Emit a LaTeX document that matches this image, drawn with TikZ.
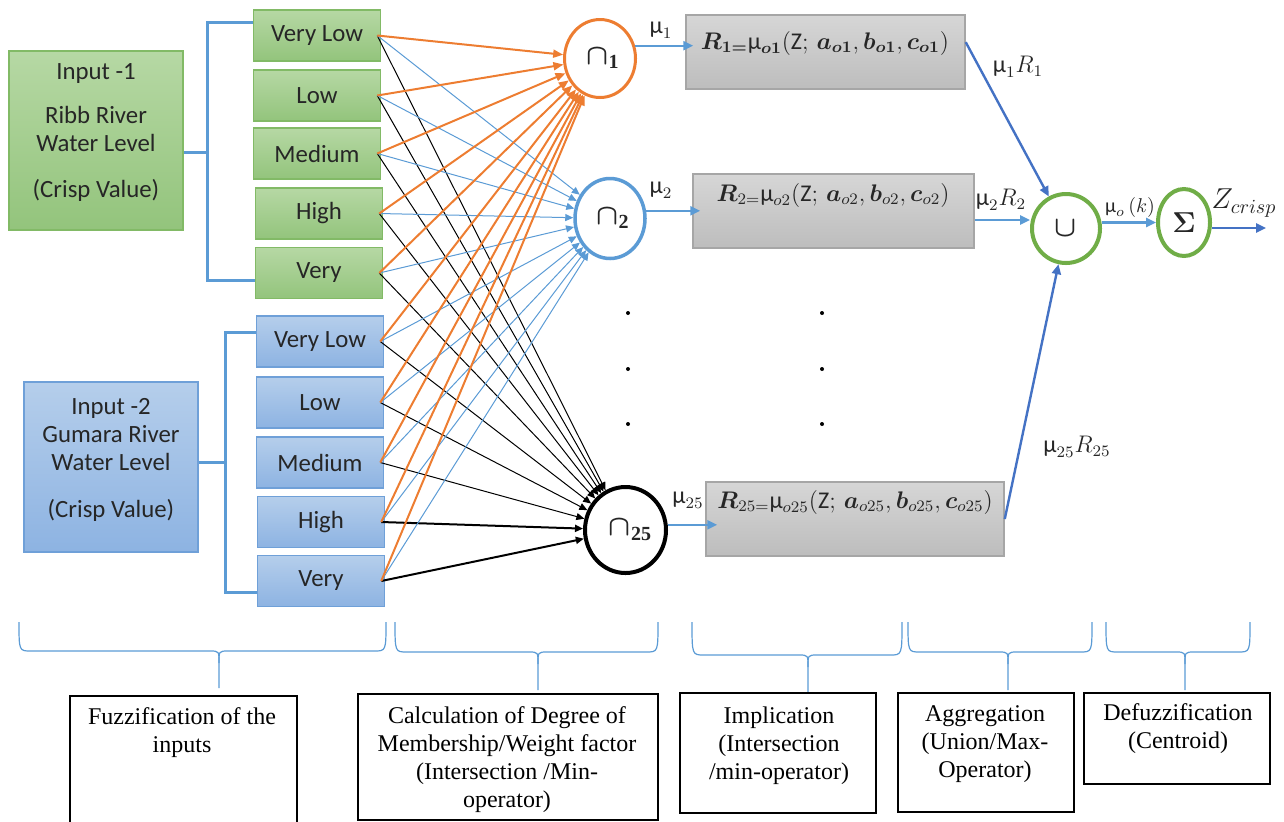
\documentclass[tikz,border=0pt]{standalone}
\usepackage{amsmath,bm}
\usepackage{fontspec}
\setmainfont{Liberation Serif}
\newfontfamily\calib{Carlito}
\usetikzlibrary{arrows.meta,shapes.geometric,calc}

\definecolor{ofOrange}{HTML}{ED7D31}
\definecolor{ofBlue}{HTML}{5B9BD5}
\definecolor{ofDarkBlue}{HTML}{4472C4}
\definecolor{ofGreen}{HTML}{70AD47}
\definecolor{greenTop}{HTML}{B6D8A4}
\definecolor{greenBot}{HTML}{93C47C}
\definecolor{greenEdge}{HTML}{82BA66}
\definecolor{blueTop}{HTML}{B5CEEB}
\definecolor{blueBot}{HTML}{8DB3E2}
\definecolor{blueEdge}{HTML}{6FA0D8}
\definecolor{grayTop}{HTML}{D6D6D6}
\definecolor{grayBot}{HTML}{BDBDBD}
\definecolor{grayEdge}{HTML}{A6A6A6}
\definecolor{txtGray}{HTML}{262626}

\newcommand{\umu}{\text{\calib μ}}
\newcommand{\zz}{\text{\calib Z}}

\begin{document}
\begin{tikzpicture}[x=0.5pt, y=-0.5pt,
    mfg/.style={draw=greenEdge, line width=0.75pt, top color=greenTop, bottom color=greenBot,
      minimum width=63.5pt, minimum height=25.5pt, inner sep=0pt, text=txtGray,
      font=\calib\fontsize{12.4}{14}\selectfont},
    mfb/.style={mfg, draw=blueEdge, top color=blueTop, bottom color=blueBot},
    intext/.style={align=center, text=txtGray, font=\calib\fontsize{12.4}{14}\selectfont},
    ell/.style={ellipse, fill=white, inner sep=0pt, text=txtGray, font=\fontsize{14.4}{17}\selectfont},
    rbox/.style={draw=grayEdge, line width=0.75pt, top color=grayTop, bottom color=grayBot,
      minimum height=37pt, inner sep=0pt},
    rtext/.style={text=txtGray, font=\fontsize{12}{14}\selectfont},
    lab/.style={text=txtGray, font=\fontsize{12}{14}\selectfont},
    bracket/.style={draw=ofBlue, line width=1.5pt},
    orangeline/.style={draw=ofOrange, line width=1pt, -{Triangle[length=5pt,width=4pt]}},
    blueline/.style={draw=ofBlue, line width=0.5pt, -{Triangle[length=4pt,width=3.5pt]}},
    blackline/.style={draw=black, line width=0.5pt, -{Triangle[length=4pt,width=3.5pt]}},
    link/.style={draw=ofBlue, line width=1.2pt, -{Triangle[length=5pt,width=4.5pt]}},
    link2/.style={link, draw=ofDarkBlue},
    brace/.style={draw=ofBlue, line width=0.6pt},
    stage/.style={draw=black, line width=0.6pt, inner sep=0pt},
    stagetext/.style={align=center, font=\fontsize{12}{14}\selectfont}
  ]
  \useasboundingbox (0,0) rectangle (1284,821);

  % input 1
  \node[mfg, minimum width=87pt, minimum height=89.5pt] (in1) at (96,140.5) {};
  \node[intext] (in1t) at (96,133) {Input -1\\[8pt]Ribb River\\Water Level\\[9pt](Crisp Value)};
  \node[mfg] (g1) at (317,35.5) {Very Low};
  \node[mfg] (g2) at (317,95.5) {Low};
  \node[mfg] (g3) at (317,153.5) {Medium};
  \node[mfg] (g4) at (319,213.5) {High};
  \node[mfg] (g5) at (319,273) {Very};

  % input 2
  \node[mfb, minimum width=87pt, minimum height=85pt] (in2) at (111,467) {};
  \node[intext] (in2t) at (111,459.5) {Input -2\\Gumara River\\Water Level\\[9.5pt](Crisp Value)};
  \node[mfb] (b1) at (320,341.5) {Very Low};
  \node[mfb] (b2) at (320,402.5) {Low};
  \node[mfb] (b3) at (320,462.5) {Medium};
  \node[mfb] (b4) at (321,522) {High};
  \node[mfb] (b5) at (321,581) {Very};

  % brackets
  \coordinate (k1) at (207,152);
  \coordinate (k2) at (225,462);
  \draw[bracket] (in1.east |- k1) -- (k1);
  \draw[bracket] ($(g1.west)+(0,-13.5)$) -| (k1) |- ($(g5.west)+(0,7)$);
  \draw[bracket] (in2.east |- k2) -- (k2);
  \draw[bracket] ($(b1.west)+(0,-9.5)$) -| (k2) |- ($(b5.west)+(0,11)$);

  % rule nodes
  \node[ell, draw=ofOrange, line width=1.5pt, minimum width=35.5pt, minimum height=39pt] (c1) at (600,58.5) {\hspace{3pt}$\bm{\cap}_{\mathbf{1}}$};
  \node[ell, draw=ofBlue, line width=1.75pt, minimum width=35pt, minimum height=40pt] (c2) at (610,218.5) {\hspace{3pt}$\bm{\cap}_{\mathbf{2}}$};
  \node[ell, draw=black, line width=2pt, minimum width=40.5pt, minimum height=43pt] (c25) at (625.5,530) {\hspace{5pt}$\bm{\cap}_{\mathbf{25}}$};

  % membership lines
  \foreach \m in {g1,g2,g3,g4,g5,b1,b2,b3}
    \draw[blackline] ([xshift=-2pt]\m.east) -- (c25);
  \foreach \m in {b4,b5}
    \draw[blackline, line width=1pt] ([xshift=-2pt]\m.east) -- (c25);
  \foreach \m in {g1,g2,g3,g4,g5,b1,b2,b3,b4,b5}
    \draw[blueline] ([xshift=-2pt]\m.east) -- (c2);
  \foreach \m in {g1,g2,g3,g4,g5,b1,b2,b3,b4,b5}
    \draw[orangeline] ([xshift=-2pt]\m.east) -- (c1);

  % implication
  \node[rbox, minimum width=139.5pt] (r1) at (825.5,52) {};
  \node[rbox, minimum width=140.5pt] (r2) at (833.5,211) {};
  \node[rbox, minimum width=149pt] (r25) at (855,519) {};
  \node[rtext] (r1t) at (825,43) {$\bm{R_{1=}}\umu_{\bm{o1}}(\zz;\,\bm{a_{o1}},\bm{b_{o1}},\bm{c_{o1}})$};
  \node[rtext] (r2t) at (833,195) {$\bm{R}_{2=}\umu_{o2}(\zz;\,\bm{a}_{o2},\bm{b}_{o2},\bm{c}_{o2})$};
  \node[rtext] (r25t) at (855,502) {$\bm{R}_{25=}\umu_{o25}(\zz;\,\bm{a}_{o25},\bm{b}_{o25},\bm{c}_{o25})$};

  \draw[link, shorten >=-4pt] (c1.20) -- (c1.20 -| r1.west);
  \draw[link, shorten >=-4pt] (c2.12) -- (c2.12 -| r2.west);
  \draw[link, shorten >=-6pt] (c25.7) -- (c25.7 -| r25.west);
  \node[lab] (m1) at (661,30) {$\umu_1$};
  \node[lab] (m2) at (661,190) {$\umu_2$};
  \node[lab] (m25) at (688,500) {$\umu_{25}$};

  \foreach \yy in {313,369,424} {
    \fill (628,\yy) circle (1pt);
    \fill (822,\yy) circle (1pt);
  }

  % aggregation and defuzzification
  \node[ell, draw=ofGreen, line width=2pt, minimum width=34pt, minimum height=34.5pt] (u) at (1066,228.5) {$\bm{\cup}$};
  \node[ell, draw=ofGreen, line width=2pt, minimum width=26pt, minimum height=33.5pt] (s) at (1184,222.5) {$\bm{\Sigma}$};
  \coordinate (r2o) at ($(r2.east)+(0,9)$);
  \coordinate (zout) at (1266,228);
  \draw[link2] (r1.4) -- (u);
  \draw[link] (r2o) -- (r2o -| u.west);
  \draw[link2] (r25.east) -- (u);
  \draw[link] (u.east |- s.west) -- (s.west);
  \draw[link2] (s.east |- zout) -- (zout);
  \node[lab] (m1r1) at (1018,67) {$\umu_1R_1$};
  \node[lab] (m2r2) at (1001,200) {$\umu_2R_2$};
  \node[lab] (m25r25) at (1077,447) {$\umu_{25}R_{25}$};
  \node[lab, font=\fontsize{10}{12}\selectfont] (mok) at (1130,207) {$\umu_o\,(k)$};
  \node[lab, font=\fontsize{14.4}{16}\selectfont] (zc) at (1244,203) {$Z_{crisp}$};

  % braces
  \foreach \xa/\xm/\xb/\yh/\yb in {19/219/386/651/688, 395/538/658/652/690, 692/808/902/655/692,
      908/1008/1092/652/690, 1106/1185/1250/652/690} {
    \draw[brace] (\xa,622) .. controls (\xa,\yh) .. (\xa+12,\yh) -- (\xm-9,\yh)
      .. controls (\xm,\yh) .. (\xm,\yh+12) -- (\xm,\yb);
    \draw[brace] (\xb,622) .. controls (\xb,\yh) .. (\xb-12,\yh) -- (\xm+9,\yh)
      .. controls (\xm,\yh) .. (\xm,\yh+12);
  }

  % stages
  \node[stage, minimum width=113.5pt, minimum height=70pt] (st1) at (183.5,766) {};
  \node[stage, minimum width=150pt, minimum height=63pt] (st2) at (508,757) {};
  \node[stage, minimum width=98pt, minimum height=60pt] (st3) at (778,753) {};
  \node[stage, minimum width=88pt, minimum height=59.5pt] (st4) at (986,752.5) {};
  \node[stage, minimum width=93pt, minimum height=45.5pt] (st5) at (1177,738.5) {};
  \node[stagetext] (st1t) at (182,732.5) {Fuzzification of the\\inputs};
  \node[stagetext] (st2t) at (507,760) {Calculation of Degree of\\Membership/Weight factor\\(Intersection /Min-\\operator)};
  \node[stagetext] (st3t) at (779,745.5) {Implication\\(Intersection\\/min-operator)};
  \node[stagetext] (st4t) at (985,744) {Aggregation\\(Union/Max-\\Operator)};
  \node[stagetext] (st5t) at (1178,728.5) {Defuzzification\\(Centroid)};
\end{tikzpicture}
\end{document}
